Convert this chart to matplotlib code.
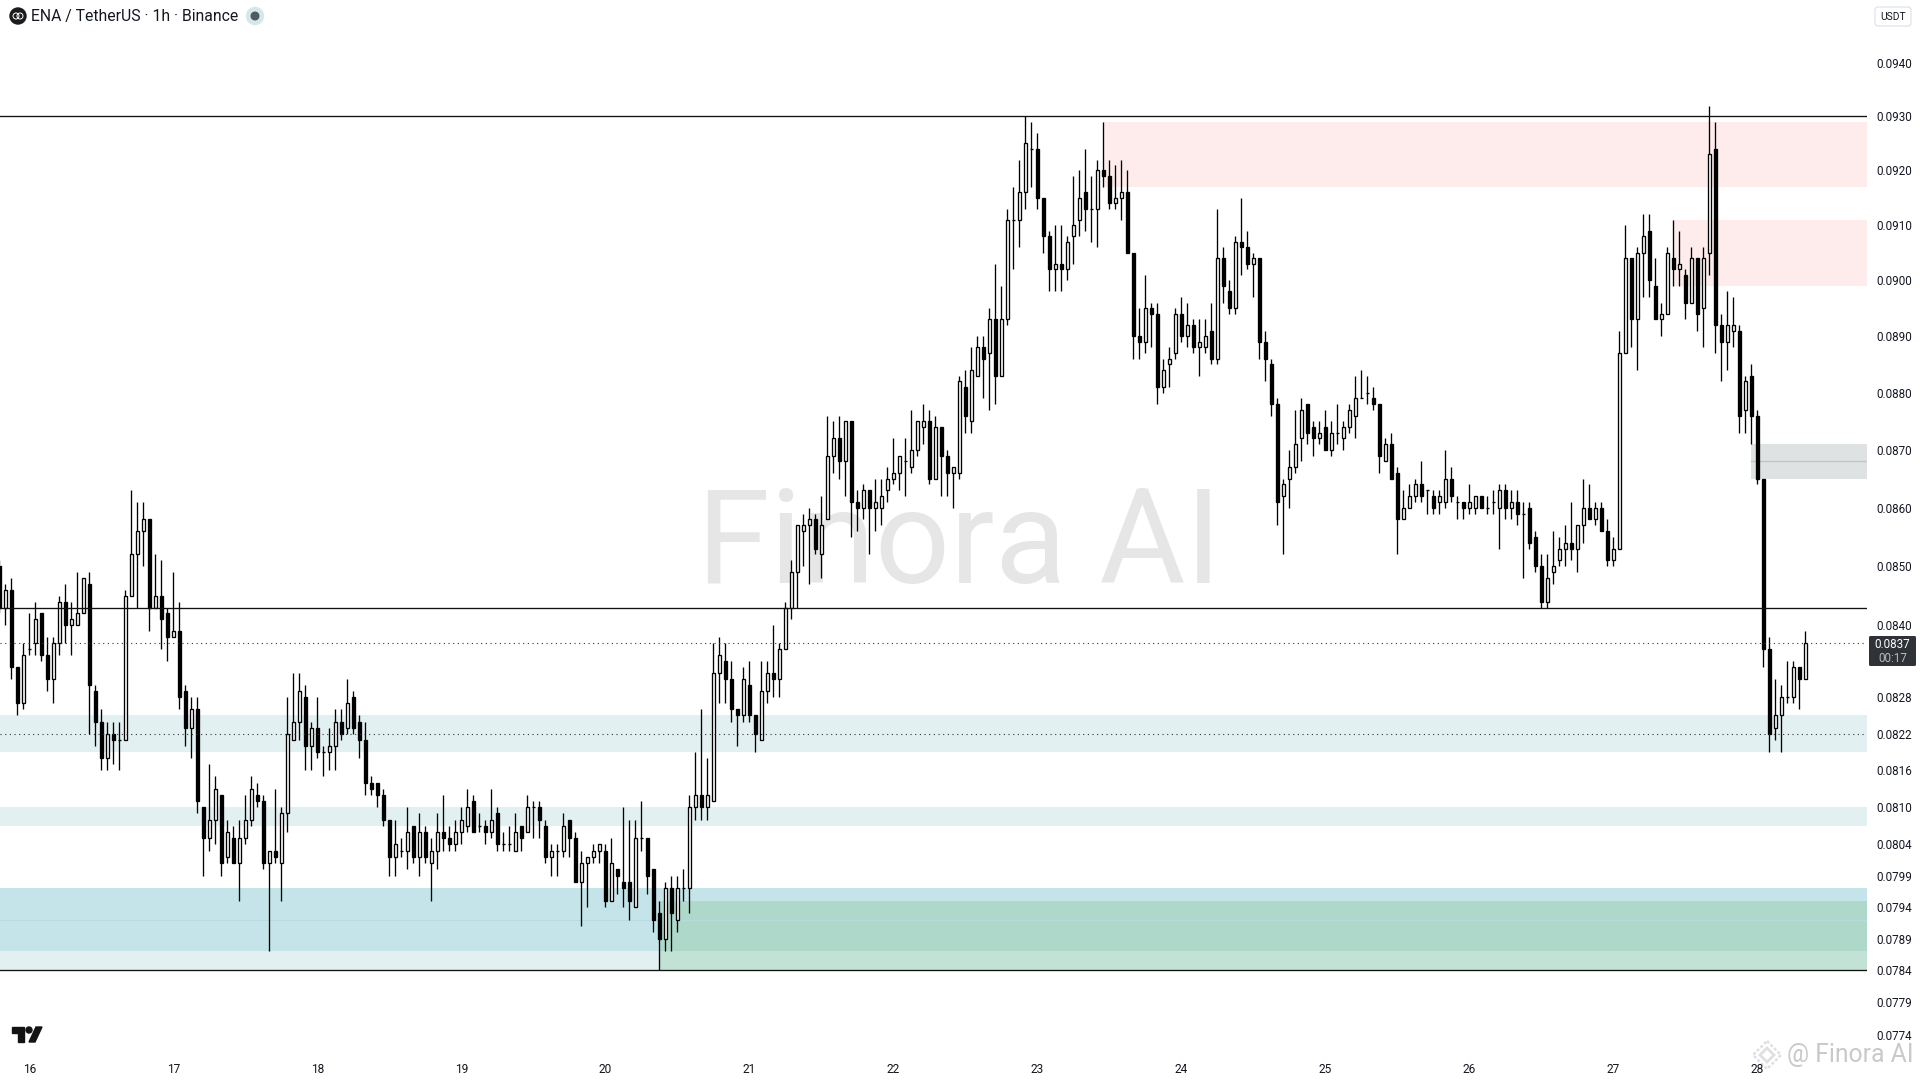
"""ENA/USDT 1h candles with supply and demand zones, TradingView style."""

import matplotlib

matplotlib.use("Agg")

import matplotlib.pyplot as plt
from matplotlib.patches import Circle, FancyBboxPatch, Polygon
from matplotlib.ticker import FixedLocator, FuncFormatter, NullLocator

# candle values, in units of 0.0001 USDT, one per hour
opens = [
    850, 843, 846, 833, 827, 836, 837, 842, 835, 831,
    837, 844, 840, 840, 842, 847, 829, 824, 818, 822,
    821, 821, 845, 852, 856, 858, 843, 845, 842, 838,
    839, 829, 823, 826, 810, 805, 808, 812, 802, 805,
    801, 805, 808, 812, 811, 801, 803, 801, 809, 821,
    824, 828, 820, 823, 819, 819, 820, 824, 823, 828,
    824, 821, 814, 814, 812, 808, 802, 803, 803, 807,
    802, 806, 801, 803, 806, 805, 804, 806, 807, 811,
    807, 807, 806, 809, 804, 804, 803, 807, 806, 810,
    810, 807, 802, 803, 803, 808, 805, 798, 801, 802,
    803, 803, 795, 800, 798, 798, 794, 805, 805, 800,
    793, 789, 797, 792, 797, 797, 810, 812, 810, 811,
    832, 834, 831, 826, 825, 830, 825, 821, 829, 832,
    831, 836, 843, 849, 856, 857, 858, 852, 858, 869,
    872, 868, 875, 861, 860, 863, 860, 860, 863, 865,
    866, 868, 867, 870, 874, 875, 865, 874, 869, 866,
    866, 881, 875, 883, 888, 887, 893, 883, 893, 911,
    911, 916, 924, 924, 915, 908, 902, 903, 902, 908,
    911, 916, 913, 913, 920, 919, 914, 915, 916, 905,
    890, 889, 895, 894, 881, 885, 887, 894, 890, 892,
    888, 888, 891, 886, 904, 898, 895, 907, 906, 903,
    904, 889, 885, 878, 862, 865, 867, 872, 878, 874,
    872, 874, 870, 873, 872, 874, 876, 879, 880, 879,
    878, 868, 871, 866, 858, 860, 862, 864, 863, 862,
    861, 861, 865, 861, 861, 860, 860, 862, 860, 861,
    860, 863, 860, 861, 859, 860, 855, 850, 844, 849,
    851, 853, 854, 853, 857, 860, 858, 860, 856, 851,
    853, 887, 904, 893, 905, 909, 899, 893, 894, 904,
    902, 901, 896, 904, 895, 905, 924, 892, 889, 891,
    891, 877, 883, 876, 865, 836, 823, 825, 828, 828,
    833, 831,
]
highs = [
    851, 847, 848, 833, 837, 842, 844, 842, 838, 838,
    845, 847, 844, 849, 848, 849, 830, 826, 824, 824,
    824, 846, 863, 861, 861, 858, 852, 851, 843, 849,
    844, 830, 828, 828, 810, 817, 815, 812, 808, 807,
    808, 812, 815, 814, 812, 803, 813, 810, 828, 832,
    832, 830, 824, 828, 820, 823, 826, 826, 831, 829,
    825, 824, 815, 814, 813, 808, 808, 805, 810, 807,
    809, 807, 805, 809, 812, 807, 808, 810, 813, 812,
    809, 808, 813, 810, 806, 807, 809, 807, 812, 811,
    811, 808, 804, 804, 809, 808, 806, 803, 802, 804,
    804, 804, 805, 800, 810, 808, 808, 811, 805, 800,
    795, 798, 799, 799, 800, 812, 819, 826, 818, 837,
    838, 837, 834, 826, 833, 834, 825, 834, 834, 840,
    837, 844, 851, 857, 859, 860, 859, 862, 876, 875,
    876, 875, 875, 863, 864, 863, 865, 865, 867, 872,
    869, 872, 877, 875, 878, 877, 876, 874, 870, 867,
    883, 884, 888, 890, 890, 895, 903, 899, 913, 917,
    922, 930, 929, 927, 915, 909, 910, 910, 908, 919,
    920, 924, 919, 922, 929, 922, 921, 922, 920, 905,
    895, 901, 896, 896, 886, 888, 895, 897, 896, 893,
    893, 893, 896, 913, 906, 900, 908, 915, 909, 905,
    904, 891, 886, 879, 865, 870, 877, 879, 878, 875,
    875, 877, 875, 878, 875, 878, 883, 884, 883, 881,
    878, 872, 873, 867, 863, 864, 865, 868, 863, 863,
    863, 870, 867, 862, 861, 864, 862, 862, 862, 863,
    864, 864, 863, 863, 861, 861, 856, 852, 852, 856,
    855, 857, 861, 857, 865, 864, 861, 861, 858, 855,
    891, 910, 904, 906, 912, 912, 904, 896, 906, 911,
    909, 902, 906, 904, 906, 932, 929, 894, 898, 897,
    892, 883, 885, 877, 865, 838, 831, 830, 834, 834,
    833, 839,
]
lows = [
    842, 840, 831, 825, 826, 835, 835, 834, 829, 827,
    835, 837, 835, 840, 842, 822, 820, 816, 816, 817,
    816, 821, 845, 843, 850, 839, 843, 836, 834, 838,
    826, 820, 818, 809, 799, 803, 804, 799, 801, 801,
    795, 804, 807, 810, 800, 787, 801, 795, 806, 821,
    821, 816, 816, 818, 815, 816, 816, 821, 822, 822,
    818, 812, 812, 810, 807, 799, 799, 802, 800, 801,
    799, 801, 795, 800, 803, 803, 803, 804, 806, 806,
    806, 804, 805, 803, 803, 803, 803, 803, 806, 805,
    805, 801, 799, 799, 802, 802, 798, 791, 794, 801,
    801, 794, 795, 796, 794, 792, 794, 803, 796, 790,
    784, 787, 787, 790, 795, 793, 808, 808, 808, 811,
    827, 827, 824, 820, 824, 824, 819, 821, 827, 828,
    828, 836, 841, 843, 850, 847, 852, 848, 858, 866,
    865, 862, 855, 856, 858, 852, 856, 857, 861, 864,
    863, 862, 866, 869, 871, 864, 865, 862, 862, 860,
    865, 873, 873, 883, 879, 877, 878, 883, 892, 902,
    906, 913, 917, 913, 905, 898, 898, 898, 900, 903,
    908, 909, 907, 906, 917, 913, 913, 911, 905, 886,
    886, 887, 888, 878, 880, 881, 886, 889, 888, 887,
    883, 887, 885, 885, 896, 894, 894, 901, 902, 897,
    886, 882, 876, 857, 852, 860, 866, 868, 871, 869,
    871, 870, 869, 871, 870, 873, 872, 879, 878, 877,
    866, 868, 865, 852, 858, 860, 861, 861, 859, 859,
    859, 860, 861, 858, 858, 859, 859, 860, 859, 859,
    853, 858, 858, 857, 848, 853, 849, 843, 843, 847,
    850, 850, 851, 849, 854, 858, 857, 856, 850, 850,
    853, 887, 888, 884, 897, 897, 893, 890, 894, 899,
    899, 893, 896, 891, 888, 901, 887, 882, 884, 888,
    873, 873, 871, 864, 833, 819, 821, 819, 827, 827,
    826, 831,
]
closes = [
    843, 846, 833, 827, 835, 836, 841, 835, 831, 837,
    844, 840, 841, 842, 848, 830, 824, 818, 822, 821,
    821, 845, 852, 856, 858, 843, 845, 841, 838, 839,
    828, 823, 826, 811, 805, 808, 813, 801, 806, 801,
    805, 808, 813, 811, 801, 803, 802, 809, 822, 824,
    829, 820, 823, 819, 819, 820, 824, 822, 827, 823,
    821, 814, 813, 812, 808, 802, 804, 803, 806, 802,
    806, 802, 803, 806, 805, 804, 806, 808, 810, 806,
    807, 806, 808, 804, 804, 804, 806, 805, 810, 810,
    808, 802, 803, 803, 807, 805, 798, 801, 802, 803,
    804, 795, 801, 799, 797, 795, 805, 805, 799, 792,
    789, 797, 793, 797, 797, 810, 812, 810, 812, 832,
    835, 831, 826, 825, 831, 825, 822, 829, 832, 831,
    836, 843, 849, 857, 857, 858, 853, 857, 869, 872,
    868, 875, 861, 860, 863, 860, 861, 862, 865, 866,
    869, 868, 870, 875, 875, 865, 874, 869, 866, 867,
    882, 876, 884, 888, 886, 893, 883, 893, 911, 911,
    916, 925, 924, 915, 908, 902, 903, 902, 907, 910,
    915, 913, 913, 920, 919, 914, 915, 916, 905, 890,
    889, 895, 894, 881, 884, 886, 894, 890, 892, 888,
    889, 890, 886, 904, 899, 895, 907, 906, 903, 904,
    889, 886, 878, 861, 864, 867, 871, 877, 873, 872,
    873, 870, 873, 873, 874, 877, 879, 879, 880, 878,
    869, 871, 865, 858, 860, 862, 864, 862, 863, 860,
    862, 865, 862, 861, 860, 861, 862, 860, 860, 861,
    863, 860, 861, 859, 859, 854, 850, 844, 848, 850,
    853, 854, 853, 857, 860, 858, 860, 856, 851, 853,
    887, 904, 893, 905, 908, 900, 893, 894, 905, 902,
    903, 896, 904, 894, 904, 923, 892, 889, 892, 892,
    876, 882, 876, 865, 836, 822, 825, 828, 828, 833,
    831, 837,
]

price_ticks = [0.0940, 0.0930, 0.0920, 0.0910, 0.0900, 0.0890, 0.0880, 0.0870,
               0.0860, 0.0850, 0.0840, 0.0828, 0.0822, 0.0816, 0.0810, 0.0804,
               0.0799, 0.0794, 0.0789, 0.0784, 0.0779, 0.0774]
day_labels = ["16", "17", "18", "19", "20", "21", "22", "23", "24", "25", "26", "27", "28"]
day_starts = [5 + 24 * n for n in range(len(day_labels))]

level_lines = [0.0930, 0.0843, 0.0784]
dotted_lines = [0.0837, 0.0822]

# (first candle, low price, high price, colour)
zones = [
    (184, 0.0917, 0.0929, "#feecec"),
    (279, 0.0899, 0.0911, "#feecec"),
    (292, 0.0865, 0.0871, "#dfe2e2"),
    (0, 0.0819, 0.0825, "#e2f0f2"),
    (0, 0.0807, 0.0810, "#e2f0f2"),
    (0, 0.0787, 0.0797, "#c5e4e9"),
    (0, 0.0784, 0.0787, "#e2f0f2"),
    (110, 0.0787, 0.0795, "#aed9ca"),
    (110, 0.0784, 0.0787, "#c2e2d5"),
]

X_LEFT, X_RIGHT = 0.11, 311.28
Y_TOP, Y_BOTTOM = 0.09519, 0.07670

fig = plt.figure(figsize=(19.2, 10.8), dpi=100, facecolor="white")
plt.rcParams["font.family"] = "Roboto"
ax = fig.add_axes([0, 0, 1867 / 1920, 1])
ax.patch.set_visible(False)
ax.set_yscale("log")
ax.set_xlim(X_LEFT, X_RIGHT)
ax.set_ylim(Y_BOTTOM, Y_TOP)
for spine in ax.spines.values():
    spine.set_visible(False)

for start, low, high, colour in zones:
    ax.fill_between([start if start else X_LEFT, X_RIGHT], low, high, color=colour, lw=0, zorder=1)
ax.axhline(0.0792, color="#b9dbe0", lw=0.7, zorder=1.1)
ax.plot([292, X_RIGHT], [0.0868, 0.0868], color="#c4c4c4", lw=1.0, zorder=1.1)

ax.text(160, 0.08472, "Finora AI", fontsize=95, color="#e6e6e6",
        ha="center", va="baseline", zorder=2)

index = list(range(len(opens)))
tick = 0.0001
ax.vlines(index, [v * tick for v in lows], [v * tick for v in highs], color="black", lw=0.95, zorder=3)
bottoms = [min(o, c) * tick for o, c in zip(opens, closes)]
heights = [abs(o - c) * tick for o, c in zip(opens, closes)]
faces = ["black" if c < o else "white" for o, c in zip(opens, closes)]
ax.bar(index, heights, bottom=bottoms, width=0.6, color=faces, edgecolor="black", linewidth=0.95, zorder=4)

for level in level_lines:
    ax.axhline(level, color="#111111", lw=0.95, zorder=5)
for level in dotted_lines:
    ax.axhline(level, color="#333333", lw=0.8, ls=(0, (1, 3.2)), zorder=5)

ax.yaxis.tick_right()
ax.yaxis.set_major_locator(FixedLocator(price_ticks))
ax.yaxis.set_minor_locator(NullLocator())
ax.yaxis.set_major_formatter(FuncFormatter(lambda v, _: f"{v:.4f}"))
ax.tick_params(axis="y", length=0, pad=7, labelsize=8.4, labelcolor="#131722")
ax.set_xticks(day_starts, day_labels)
ax.tick_params(axis="x", length=0, pad=-12, labelsize=8.6, labelcolor="#131722")

# overlay in pixel coordinates for the chart furniture, drawn under the chart axes
over = fig.add_axes([0, 0, 1, 1], zorder=-1)
over.set_xlim(0, 1920)
over.set_ylim(1080, 0)
over.axis("off")

# header
over.add_patch(Circle((18, 16), 8, color="#1b1b1f"))
over.add_patch(Circle((16, 16), 3, fc="none", ec="white", lw=0.7))
over.add_patch(Circle((20, 16), 3, fc="none", ec="white", lw=0.7))
over.text(31, 16, "ENA / TetherUS · 1h · Binance", fontsize=11.3, color="#131722", va="center")
over.add_patch(Circle((255, 16), 8.5, color="#d3e8eb"))
over.add_patch(Circle((255, 16), 3.8, color="#4f5a60"))

# USDT box
over.add_patch(FancyBboxPatch((1875, 7), 36, 19, boxstyle="round,pad=0,rounding_size=3",
                              fc="white", ec="#e0e3eb", lw=0.9))
over.text(1893, 16.5, "USDT", fontsize=7.4, color="#131722", ha="center", va="center")

# last price label
over.add_patch(FancyBboxPatch((1869, 636), 47, 30, boxstyle="round,pad=0,rounding_size=1.5",
                              fc="#2f3338", ec="none"))
over.text(1892.5, 644, "0.0837", fontsize=8.4, color="white", ha="center", va="center")
over.text(1892.5, 658, "00:17", fontsize=8.4, color="#b8bcc0", ha="center", va="center")

# TradingView logo
over.add_patch(Polygon([(12, 1027), (24, 1027), (24, 1042), (18, 1042), (18, 1033), (12, 1033)], color="#131313"))
over.add_patch(Circle((29, 1030), 3, color="#131313"))
over.add_patch(Polygon([(36, 1027), (42, 1027), (35, 1042), (29, 1042)], color="#131313"))

# bottom right watermark
for half, width in [(14, 1.8), (7, 2.0)]:
    over.add_patch(Polygon([(1767, 1055 - half), (1767 + half, 1055), (1767, 1055 + half), (1767 - half, 1055)],
                           fc="none", ec="#e0e0e0", lw=width, ls=(0, (1.2, 0.8)) if half > 10 else "-"))
over.text(1787, 1055, "@ Finora AI", fontsize=17.8, color="#c9c9c9", va="center")

fig.savefig("out.png", dpi=100, facecolor="white")
plt.close(fig)
